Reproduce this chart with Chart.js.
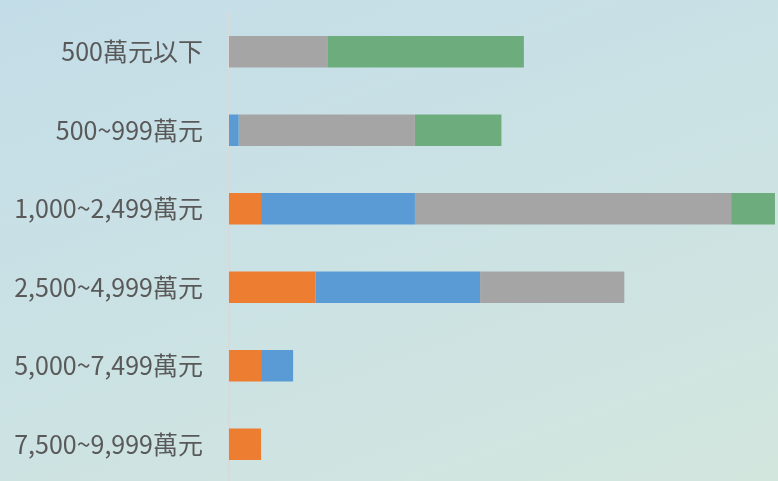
<!DOCTYPE html>
<html>
<head>
<meta charset="utf-8">
<script src="https://cdn.jsdelivr.net/npm/chart.js@4"></script>
<style>
    html, body {
        margin: 0;
        padding: 0;
        width: 778px;
        height: 481px;
        overflow: hidden;
        background: linear-gradient(160deg, #c3dde8 0%, #cbe2e4 50%, #d3e6de 100%);
    }
    .chart-wrap {
        position: relative;
        width: 778px;
        height: 496px;
    }
</style>
</head>
<body>
<div class="chart-wrap">
    <canvas id="priceChart"></canvas>
</div>
<script>
// Categories and series values
const categories = ['500萬元以下', '500~999萬元', '1,000~2,499萬元', '2,500~4,999萬元', '5,000~7,499萬元', '7,500~9,999萬元'];
const orangeValues = [0, 0, 3.0, 8.1, 3.0, 3.0];
const blueValues = [0, 0.9, 14.4, 15.4, 3.0, 0];
const grayValues = [9.2, 16.5, 29.6, 13.5, 0, 0];
const greenValues = [18.4, 8.1, 4.1, 0, 0, 0];
const axisMax = 51.2;

// Horizontal stacked bar chart
const priceCtx = document.getElementById('priceChart').getContext('2d');
new Chart(priceCtx, {
    type: 'bar',
    data: {
        labels: categories,
        datasets: [
            { label: '系列1', data: orangeValues, backgroundColor: '#ed7d31' },
            { label: '系列2', data: blueValues, backgroundColor: '#5b9bd5' },
            { label: '系列3', data: grayValues, backgroundColor: '#a5a5a5' },
            { label: '系列4', data: greenValues, backgroundColor: '#6dac7c' }
        ]
    },
    options: {
        indexAxis: 'y',
        responsive: true,
        maintainAspectRatio: false,
        animation: false,
        layout: {
            padding: { top: 0, right: 2, bottom: 0, left: 0 }
        },
        datasets: {
            bar: {
                categoryPercentage: 0.8,
                barPercentage: 0.5,
                borderWidth: 0
            }
        },
        plugins: {
            legend: { display: false },
            tooltip: { enabled: false }
        },
        scales: {
            x: {
                stacked: true,
                min: 0,
                max: axisMax,
                display: false
            },
            y: {
                stacked: true,
                afterFit: function(scale) {
                    scale.width = 229;
                },
                grid: {
                    display: true,
                    drawOnChartArea: false,
                    drawTicks: true,
                    tickLength: 26,
                    color: 'rgba(0, 0, 0, 0)'
                },
                border: {
                    display: true,
                    color: '#d9d9d9',
                    width: 2
                },
                ticks: {
                    padding: 0,
                    color: '#595959',
                    font: {
                        family: '"Noto Sans CJK TC", "Noto Sans", sans-serif',
                        size: 25,
                        lineHeight: 1
                    }
                }
            }
        }
    }
});
</script>
</body>
</html>
